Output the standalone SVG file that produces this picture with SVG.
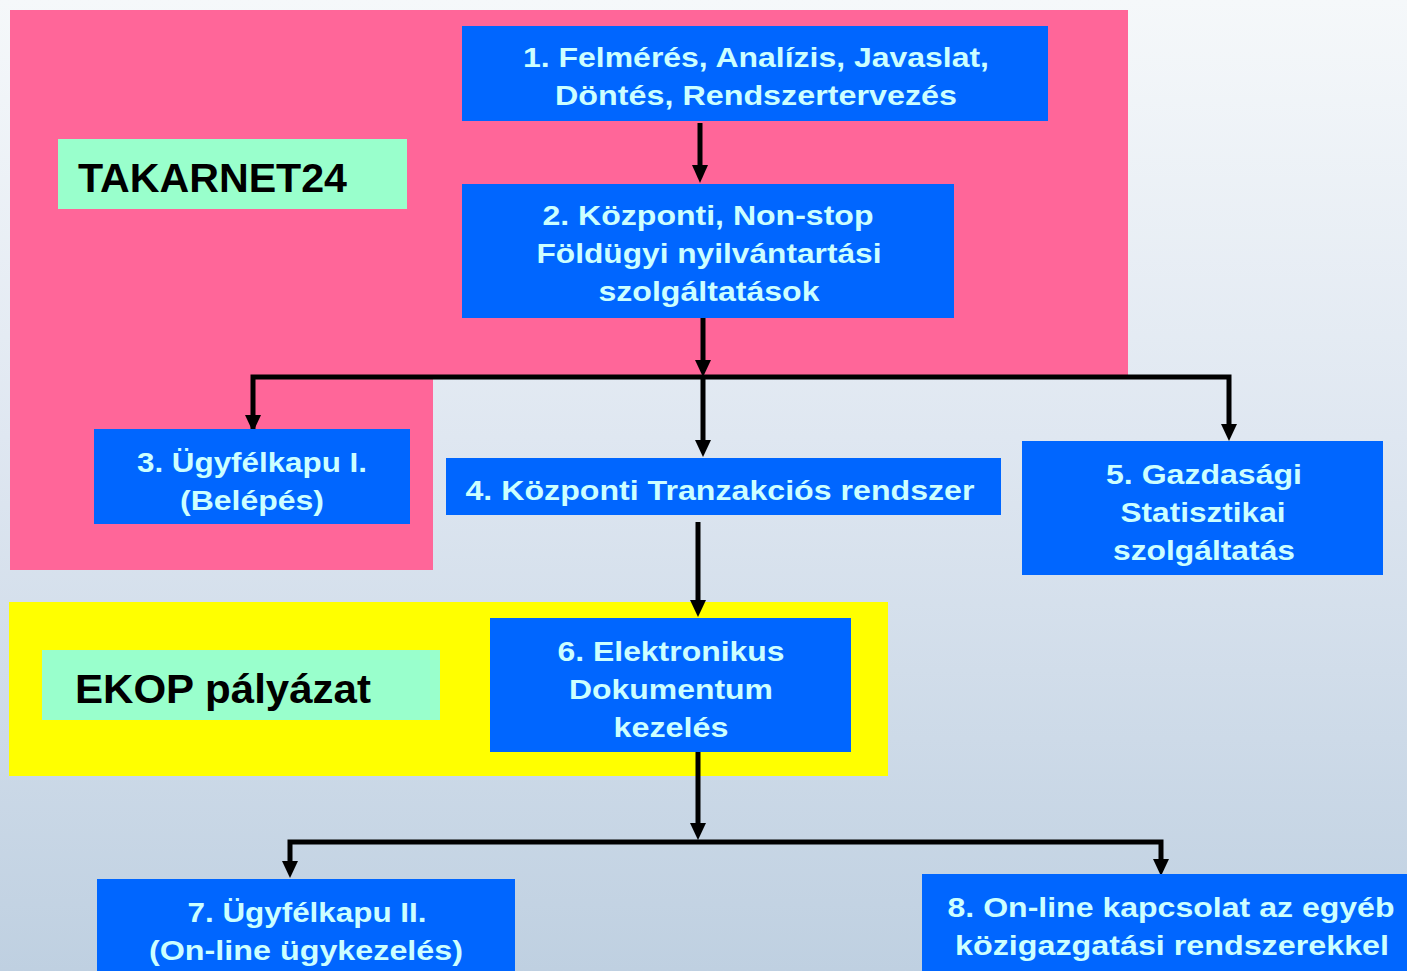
<svg xmlns="http://www.w3.org/2000/svg" width="1407" height="971" viewBox="0 0 1407 971">
<defs>
<linearGradient id="bg" x1="0" y1="0" x2="0" y2="1">
<stop offset="0" stop-color="#f5f8fa"/>
<stop offset="0.45" stop-color="#dfe7f1"/>
<stop offset="1" stop-color="#bfd0e1"/>
</linearGradient>
<style>
.box{fill:#0066ff}
.lbl{fill:#99ffcc}
.t{font-family:"Liberation Sans",Arial,sans-serif;font-weight:bold;font-size:28px;fill:#ccffff;text-anchor:middle}
.k{font-family:"Liberation Sans",Arial,sans-serif;font-weight:bold;font-size:41px;fill:#000}
.c{stroke:#000;stroke-width:5;fill:none}
</style>
</defs>
<rect width="1407" height="971" fill="url(#bg)"/>
<g id="takarnet-region">
<path d="M10,10 H1128 V375 H433 V570 H10 Z" fill="#ff6699"/>
</g>
<g id="ekop-region">
<rect x="9" y="602" width="879" height="174" fill="#ffff00"/>
</g>
<g id="takarnet-label">
<rect class="lbl" x="58" y="139" width="349" height="70"/>
<text class="k" x="78" y="192" textLength="269" lengthAdjust="spacingAndGlyphs">TAKARNET24</text>
</g>
<g id="ekop-label">
<rect class="lbl" x="42" y="650" width="398" height="70"/>
<text class="k" x="75" y="703" textLength="296" lengthAdjust="spacingAndGlyphs">EKOP  pályázat</text>
</g>
<g id="connectors">
<line class="c" x1="700" y1="123" x2="700" y2="165"/>
<path d="M692,165 H708 L700,183 Z"/>
<line class="c" x1="703" y1="315" x2="703" y2="360"/>
<path d="M695,360 H711 L703,377 Z"/>
<polyline class="c" points="253,430 253,377 1229,377 1229,430"/>
<line class="c" x1="703" y1="377" x2="703" y2="440"/>
<path d="M695,440 H711 L703,457 Z"/>
<path d="M245,415 H261 L253,432 Z"/>
<path d="M1221,424 H1237 L1229,441 Z"/>
<line class="c" x1="698" y1="522" x2="698" y2="600"/>
<path d="M690,600 H706 L698,617 Z"/>
<line class="c" x1="698" y1="746" x2="698" y2="823"/>
<path d="M690,823 H706 L698,840 Z"/>
<polyline class="c" points="290,870 290,842 1161,842 1161,870"/>
<path d="M282,861 H298 L290,878 Z"/>
<path d="M1153,859 H1169 L1161,876 Z"/>
</g>
<g id="node1">
<rect class="box" x="462" y="26" width="586" height="95"/>
<text class="t" x="756" y="67" textLength="466" lengthAdjust="spacingAndGlyphs">1. Felmérés, Analízis,  Javaslat,</text>
<text class="t" x="756" y="105" textLength="402" lengthAdjust="spacingAndGlyphs">Döntés, Rendszertervezés</text>
</g>
<g id="node2">
<rect class="box" x="462" y="184" width="492" height="134"/>
<text class="t" x="708" y="225" textLength="331" lengthAdjust="spacingAndGlyphs">2. Központi, Non-stop</text>
<text class="t" x="709" y="263" textLength="345" lengthAdjust="spacingAndGlyphs">Földügyi nyilvántartási</text>
<text class="t" x="709" y="301" textLength="221" lengthAdjust="spacingAndGlyphs">szolgáltatások</text>
</g>
<g id="node3">
<rect class="box" x="94" y="429" width="316" height="95"/>
<text class="t" x="252" y="472" textLength="230" lengthAdjust="spacingAndGlyphs">3. Ügyfélkapu I.</text>
<text class="t" x="252" y="510" textLength="144" lengthAdjust="spacingAndGlyphs">(Belépés)</text>
</g>
<g id="node4">
<rect class="box" x="446" y="458" width="555" height="57"/>
<text class="t" x="720" y="500" textLength="509" lengthAdjust="spacingAndGlyphs">4. Központi Tranzakciós rendszer</text>
</g>
<g id="node5">
<rect class="box" x="1022" y="441" width="361" height="134"/>
<text class="t" x="1204" y="484" textLength="196" lengthAdjust="spacingAndGlyphs">5. Gazdasági</text>
<text class="t" x="1203" y="522" textLength="165" lengthAdjust="spacingAndGlyphs">Statisztikai</text>
<text class="t" x="1204" y="560" textLength="182" lengthAdjust="spacingAndGlyphs">szolgáltatás</text>
</g>
<g id="node6">
<rect class="box" x="490" y="618" width="361" height="134"/>
<text class="t" x="671" y="661" textLength="227" lengthAdjust="spacingAndGlyphs">6. Elektronikus</text>
<text class="t" x="671" y="699" textLength="204" lengthAdjust="spacingAndGlyphs">Dokumentum</text>
<text class="t" x="671" y="737" textLength="115" lengthAdjust="spacingAndGlyphs">kezelés</text>
</g>
<g id="node7">
<rect class="box" x="97" y="879" width="418" height="95"/>
<text class="t" x="307" y="922" textLength="239" lengthAdjust="spacingAndGlyphs">7. Ügyfélkapu II.</text>
<text class="t" x="306" y="960" textLength="314" lengthAdjust="spacingAndGlyphs">(On-line  ügykezelés)</text>
</g>
<g id="node8">
<rect class="box" x="922" y="874" width="488" height="100"/>
<text class="t" x="1171" y="917" textLength="447" lengthAdjust="spacingAndGlyphs">8. On-line  kapcsolat az egyéb</text>
<text class="t" x="1172" y="955" textLength="434" lengthAdjust="spacingAndGlyphs">közigazgatási rendszerekkel</text>
</g>
</svg>
